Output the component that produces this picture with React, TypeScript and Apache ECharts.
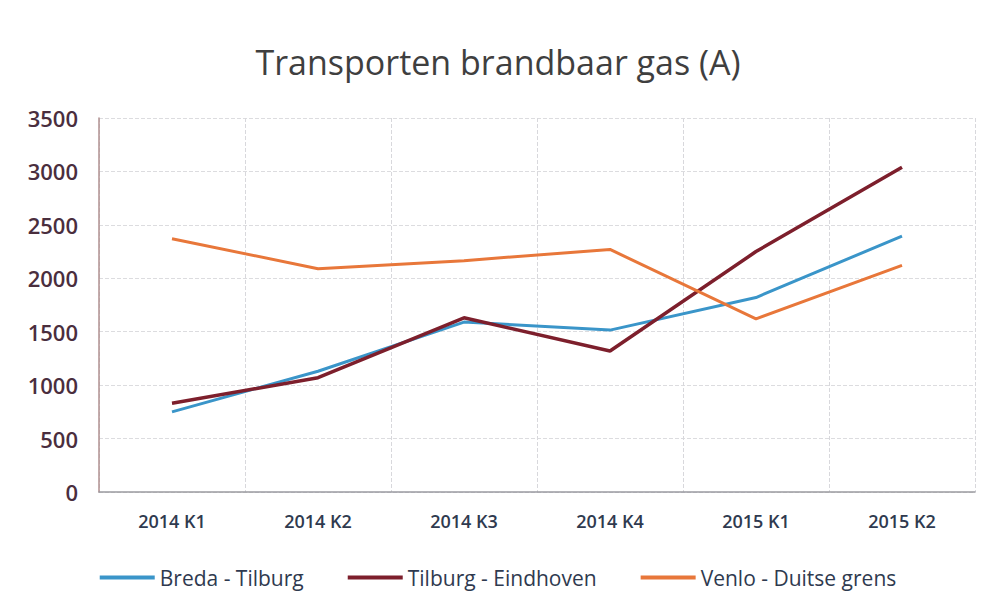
import React, { useEffect, useRef } from "react";
import * as echarts from "echarts";

const categories = ["2014 K1", "2014 K2", "2014 K3", "2014 K4", "2015 K1", "2015 K2"];
const bredaTilburg = [750, 1130, 1590, 1515, 1820, 2395];
const tilburgEindhoven = [830, 1070, 1630, 1320, 2250, 3040];
const venloDuitseGrens = [2370, 2090, 2165, 2270, 1620, 2120];
const yTicks = { min: 0, max: 3500, interval: 500 };

export default function App() {
  const ref = useRef<HTMLDivElement>(null);
  useEffect(() => {
    if (!ref.current) return;
    const chart = echarts.init(ref.current, undefined, { renderer: "svg" });
    const font = "'Open Sans', 'Liberation Sans', sans-serif";
    chart.setOption({
      animation: false,
      backgroundColor: "#ffffff",
      title: {
        text: "Transporten brandbaar gas (A)",
        left: "center",
        top: 40,
        textStyle: { fontFamily: font, fontSize: 34, fontWeight: "normal", color: "#3f3f3f" },
      },
      grid: { left: 99, right: 21, top: 118, bottom: 123 },
      legend: {
        bottom: 22,
        left: "center",
        itemWidth: 55,
        itemGap: 44,
        icon: "rect",
        itemHeight: 4,
        textStyle: { fontFamily: font, fontSize: 21, color: "#2f3a4f" },
        data: ["Breda - Tilburg", "Tilburg - Eindhoven", "Venlo - Duitse grens"],
      },
      xAxis: {
        type: "category",
        data: categories,
        boundaryGap: true,
        axisLine: { lineStyle: { color: "#9a9aa0", width: 1.5 } },
        axisTick: { show: false },
        axisLabel: { fontFamily: font, fontSize: 18, fontWeight: 600, color: "#2f3a4f", margin: 20 },
        splitLine: { show: true, lineStyle: { color: "#d8d8dc", type: "dashed" } },
      },
      yAxis: {
        type: "value",
        min: yTicks.min,
        max: yTicks.max,
        interval: yTicks.interval,
        axisLine: { show: true, lineStyle: { color: "#b09090", width: 1.5 } },
        axisTick: { show: false },
        axisLabel: {
          fontFamily: font,
          fontSize: 22,
          fontWeight: 600,
          color: "#4a2e3e",
          margin: 21,
          formatter: (v: number) => String(v),
        },
        splitLine: { show: true, lineStyle: { color: "#dcdcdf", type: "dashed" } },
      },
      series: [
        {
          name: "Breda - Tilburg",
          type: "line",
          data: bredaTilburg,
          symbol: "none",
          lineStyle: { color: "#3a95c9", width: 3 },
          itemStyle: { color: "#3a95c9" },
        },
        {
          name: "Tilburg - Eindhoven",
          type: "line",
          data: tilburgEindhoven,
          symbol: "none",
          lineStyle: { color: "#7d1f2c", width: 3.5 },
          itemStyle: { color: "#7d1f2c" },
        },
        {
          name: "Venlo - Duitse grens",
          type: "line",
          data: venloDuitseGrens,
          symbol: "none",
          lineStyle: { color: "#e8773a", width: 3 },
          itemStyle: { color: "#e8773a" },
        },
      ],
    });
    return () => chart.dispose();
  }, []);
  return (
    <div
      ref={ref}
      style={{ position: "fixed", left: 0, top: 0, width: 996, height: 615, background: "#fff" }}
    />
  );
}
